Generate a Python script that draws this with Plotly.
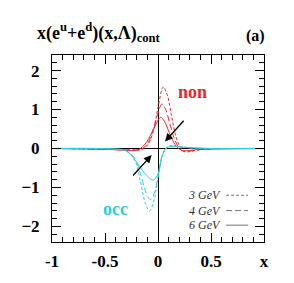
import plotly.graph_objects as go

# ---- data ----
non_3_x = [-1, -0.7, -0.5, -0.35, -0.25, -0.15, -0.09, -0.04, 0.0, 0.05, 0.09, 0.13, 0.17, 0.21, 0.25, 0.3, 0.37, 0.5, 1.0]
non_3_y = [0, -0.01, -0.02, -0.03, -0.04, -0.02, 0.12, 0.50, 1.05, 1.58, 1.35, 0.80, 0.30, 0.03, -0.08, -0.08, -0.04, -0.01, 0]
non_4_x = [-1, -0.7, -0.5, -0.35, -0.25, -0.16, -0.1, -0.05, 0.0, 0.036, 0.07, 0.11, 0.15, 0.19, 0.23, 0.28, 0.35, 0.5, 1.0]
non_4_y = [0, -0.01, -0.02, -0.03, -0.04, -0.02, 0.12, 0.45, 0.90, 1.14, 1.02, 0.65, 0.28, 0.05, -0.06, -0.07, -0.04, -0.01, 0]
non_6_x = [-1, -0.7, -0.5, -0.35, -0.25, -0.18, -0.12, -0.06, 0.0, 0.025, 0.06, 0.1, 0.14, 0.18, 0.23, 0.3, 0.4, 0.6, 1.0]
non_6_y = [0, -0.01, -0.02, -0.04, -0.05, -0.02, 0.12, 0.40, 0.72, 0.80, 0.70, 0.45, 0.20, 0.03, -0.05, -0.05, -0.02, -0.01, 0]

occ_3_x = [-1, -0.6, -0.4, -0.3, -0.22, -0.17, -0.12, -0.08, -0.04, 0.0, 0.04, 0.08, 0.12, 0.2, 0.3, 0.5, 1.0]
occ_3_y = [0, 0, -0.02, -0.06, -0.30, -0.80, -1.40, -1.60, -1.35, -0.78, -0.18, 0.03, 0.07, 0.05, 0.02, 0, 0]
occ_4_x = [-1, -0.6, -0.4, -0.3, -0.22, -0.16, -0.11, -0.07, -0.03, 0.0, 0.04, 0.08, 0.12, 0.2, 0.3, 0.5, 1.0]
occ_4_y = [0, 0, -0.02, -0.06, -0.25, -0.70, -1.15, -1.31, -1.10, -0.70, -0.18, 0.02, 0.06, 0.04, 0.02, 0, 0]
occ_6_x = [-1, -0.6, -0.4, -0.33, -0.27, -0.2, -0.15, -0.107, -0.044, 0.0, 0.035, 0.066, 0.1, 0.2, 0.3, 0.5, 1.0]
occ_6_y = [0, 0, -0.01, -0.03, -0.12, -0.36, -0.55, -0.69, -0.81, -0.65, -0.23, -0.03, 0.04, 0.04, 0.02, 0, 0]

legend_labels = ["3 GeV", "4 GeV", "6 GeV"]
x_tickvals = [-1, -0.5, 0, 0.5, 1]
x_ticktext = ["-1", "-0.5", "0", "0.5", "x"]
y_tickvals = [-2, -1, 0, 1, 2]

RED = "#e8262c"
CYAN = "#2fcfd2"
SERIF = "Liberation Serif, Times New Roman, serif"

fig = go.Figure()
dash_of = {"3": "3px,2px", "4": "6px,3px", "6": "solid"}
for key, xs, ys in [("3", non_3_x, non_3_y), ("4", non_4_x, non_4_y), ("6", non_6_x, non_6_y)]:
    fig.add_trace(go.Scatter(x=xs, y=ys, mode="lines",
                             line=dict(color=RED, width=1, dash=dash_of[key], shape="spline", smoothing=1.0),
                             showlegend=False, hoverinfo="skip"))
for key, xs, ys in [("3", occ_3_x, occ_3_y), ("4", occ_4_x, occ_4_y), ("6", occ_6_x, occ_6_y)]:
    fig.add_trace(go.Scatter(x=xs, y=ys, mode="lines",
                             line=dict(color=CYAN, width=1, dash=dash_of[key], shape="spline", smoothing=1.0),
                             showlegend=False, hoverinfo="skip"))

axis_common = dict(showline=True, linecolor="black", linewidth=1, mirror="ticks",
                   ticks="inside", ticklen=9, tickcolor="black", tickwidth=1,
                   showgrid=False, zeroline=True, zerolinecolor="black", zerolinewidth=1,
                   tickfont=dict(family=SERIF, size=17, color="black", weight="bold"))

fig.update_xaxes(range=[-1, 1], tickvals=x_tickvals, ticktext=x_ticktext,
                 minor=dict(ticks="inside", ticklen=5, dtick=0.1, tickcolor="black", tickwidth=1, showgrid=False),
                 ticklabelstandoff=4, **axis_common)
fig.update_yaxes(range=[-2.4, 2.4], tickvals=y_tickvals,
                 minor=dict(ticks="inside", ticklen=5, dtick=0.2, tickcolor="black", tickwidth=1, showgrid=False),
                 ticklabelstandoff=8, **axis_common)

# arrows
fig.add_annotation(x=0.066, y=0.18, ax=0.255, ay=0.75, xref="x", yref="y", axref="x", ayref="y",
                   showarrow=True, arrowhead=2, arrowsize=1.2, arrowwidth=1.3, arrowcolor="black", text="")
fig.add_annotation(x=-0.06, y=-0.17, ax=-0.248, ay=-0.73, xref="x", yref="y", axref="x", ayref="y",
                   showarrow=True, arrowhead=2, arrowsize=1.2, arrowwidth=1.3, arrowcolor="black", text="")

# labels
fig.add_annotation(x=0.33, y=1.44, xref="x", yref="y", text="non", showarrow=False,
                   font=dict(family=SERIF, size=18, color=RED, weight="bold"))
fig.add_annotation(x=-0.4, y=-1.55, xref="x", yref="y", text="occ", showarrow=False,
                   font=dict(family=SERIF, size=18, color=CYAN, weight="bold"))

# title and panel label
fig.add_annotation(x=-0.08, y=1.12, xref="paper", yref="paper", xanchor="left", yanchor="middle",
                   text="x(e<sup>u</sup>+e<sup>d</sup>)(x,Λ)<sub>cont</sub>", showarrow=False,
                   font=dict(family=SERIF, size=18, color="black", weight="bold"))
fig.add_annotation(x=0.962, y=1.1, xref="paper", yref="paper", xanchor="center", yanchor="middle",
                   text="(a)", showarrow=False,
                   font=dict(family=SERIF, size=16, color="black", weight="bold"))

# legend
leg_y = [0.25, 0.168, 0.09]
leg_dash = ["3px,2px", "6px,3px", "solid"]
for lab, yy, dsh in zip(legend_labels, leg_y, leg_dash):
    fig.add_annotation(x=0.807, y=yy, xref="paper", yref="paper", xanchor="right", yanchor="middle",
                       text="<i>" + lab + "</i>", showarrow=False,
                       font=dict(family=SERIF, size=12, color="#333333"))
    fig.add_shape(type="line", xref="paper", yref="paper", x0=0.821, x1=0.925, y0=yy, y1=yy,
                  line=dict(color="#777777", width=1, dash=dsh))

fig.update_layout(width=294, height=283, margin=dict(l=52, r=30, t=55, b=34),
                  paper_bgcolor="white", plot_bgcolor="white", showlegend=False)

fig.write_html("out.html", config={"displayModeBar": False},
               post_script="document.body.style.margin='0';document.body.style.overflow='hidden';")
